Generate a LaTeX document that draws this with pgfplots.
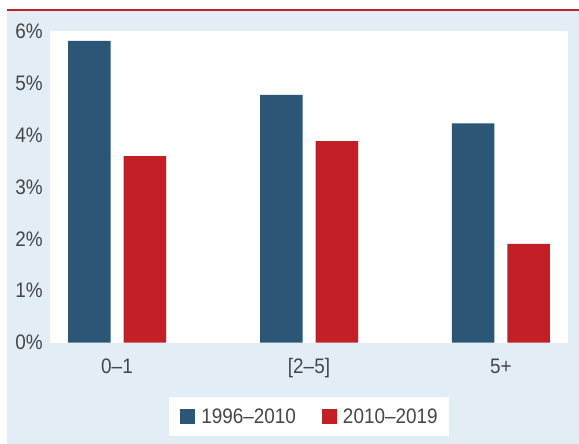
\documentclass[border=0pt]{standalone}
\usepackage{pgfplots}
\pgfplotsset{compat=1.18}
\usepackage{fontspec}
\setmainfont[FakeStretch=0.9]{Liberation Sans}
\definecolor{bgblue}{RGB}{226,237,246}
\definecolor{barblue}{RGB}{43,86,117}
\definecolor{barred}{RGB}{194,31,38}
\definecolor{txt}{RGB}{70,70,70}
\begin{document}
\begin{tikzpicture}
\useasboundingbox (0,0) rectangle (579pt,444pt);
\fill[bgblue] (7pt,0) rectangle (579pt,433pt);
\fill[barred] (7pt,433pt) rectangle (579pt,435pt);
\begin{axis}[
 at={(50pt,101.3pt)}, anchor=south west,
 scale only axis, width=518pt, height=311.7pt,
 xmin=-0.349, xmax=2.349, ymin=0, ymax=6,
 ybar=13pt, bar width=42.5pt,
 axis background/.style={fill=white},
 axis line style={draw=none},
 tick style={draw=none},
 xtick={0,1,2}, xticklabels={0--1,{[2--5]},5+},
 ytick={0,1,2,3,4,5,6}, yticklabels={0\%,1\%,2\%,3\%,4\%,5\%,6\%},
 ticklabel style={font=\fontsize{21}{24}\selectfont, text=txt},
 yticklabel style={inner sep=0pt, xshift=-7pt},
 xticklabel style={inner sep=0pt, text height=15.5pt, text depth=4pt, yshift=-10.5pt},
 legend columns=2,
 legend style={at={(0.5,0)}, anchor=north, yshift=-54.3pt, draw=none, fill=white,
   font=\fontsize{21}{24}\selectfont, text=txt,
   inner xsep=11.5pt, inner ysep=11.3pt, nodes={inner sep=0pt},
   column sep=6pt, /tikz/every even column/.append style={column sep=26pt}},
 legend image code/.code={\fill[#1] (0pt,-7.8pt) rectangle (15pt,7.8pt);},
]
\addplot[fill=barblue, draw=none] coordinates {(0,5.81) (1,4.77) (2,4.22)};
\addplot[fill=barred, draw=none] coordinates {(0,3.59) (1,3.88) (2,1.90)};
\addlegendentry{1996--2010}
\addlegendentry{2010--2019}
\end{axis}
\end{tikzpicture}
\end{document}
